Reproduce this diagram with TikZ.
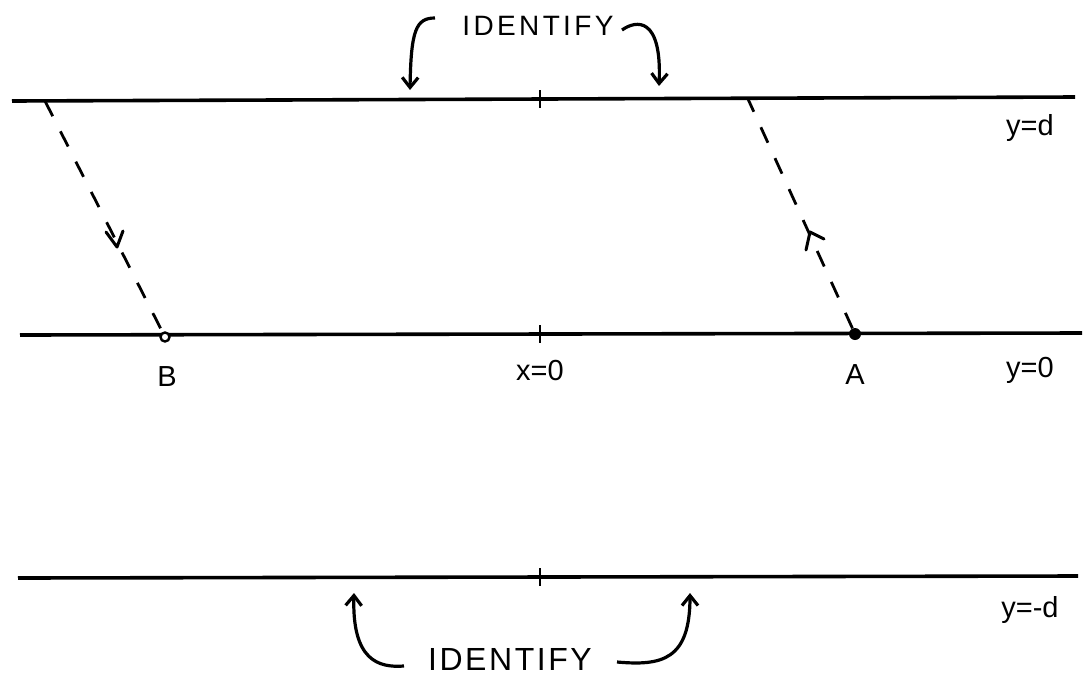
\documentclass[tikz,border=0pt]{standalone}
\usepackage{fontspec}
\setmainfont{Liberation Sans}
\usetikzlibrary{arrows.meta}
\begin{document}
\begin{tikzpicture}[x=1pt,y=-1pt,
  axisline/.style={line width=3.6pt},
  tickmark/.style={line width=2.8pt},
  dashline/.style={line width=2.8pt, dash pattern=on 17pt off 17pt},
  curvearrow/.style={line width=3.2pt, -{Straight Barb[length=10pt,width=16pt,line width=3.2pt]}},
  lbl/.style={font=\fontsize{29}{32}\selectfont},
  idtop/.style={font=\fontsize{28}{32}\selectfont\addfontfeature{LetterSpace=12}},
  idbot/.style={font=\fontsize{32}{36}\selectfont\addfontfeature{LetterSpace=8}}]
\useasboundingbox (0,0) rectangle (1084,681);
% lines
\coordinate (t1) at (12,101); \coordinate (t2) at (1075,97);
\coordinate (m1) at (20,335); \coordinate (m2) at (1082,333);
\coordinate (b1) at (18,578); \coordinate (b2) at (1078,576);
\draw[axisline] (t1) -- (t2);
\draw[axisline] (m1) -- (m2);
\draw[axisline] (b1) -- (b2);
\coordinate (tt) at (540,90); \coordinate (tb) at (540,108);
\draw[tickmark] (tt) -- (tb);
\coordinate (mt) at (540,325); \coordinate (mb) at (540,343);
\draw[tickmark] (mt) -- (mb);
\coordinate (bt) at (540,568); \coordinate (bb) at (540,586);
\draw[tickmark] (bt) -- (bb);
% points
\node[circle, draw, line width=2.4pt, fill=white, inner sep=0pt, minimum size=9pt] (B) at (165,337) {};
\node[circle, fill=black, inner sep=0pt, minimum size=12pt] (A) at (855,334) {};
\coordinate (Bt) at (45,101);
\coordinate (At) at (748,99);
\draw[dashline] (Bt) -- (B);
\draw[dashline] (A) -- (At);
% mid arrows
\draw[line width=3pt, line cap=round, line join=round] (106,232) -- (117,247) -- (123,231);
\draw[line width=3pt, line cap=round, line join=round] (806,250) -- (810,232) -- (824,239);
% labels
\node[lbl] (Blbl) at (167,377) {B};
\node[lbl] (Albl) at (855,375) {A};
\node[lbl] (xlbl) at (540,371) {x=0};
\node[lbl] (yd) at (1030,128) {y=d};
\node[lbl] (y0) at (1030,370) {y=0};
\node[lbl] (ymd) at (1030,610) {y=-d};
% identify top
\node[idtop] (idt) at (538,26) {IDENTIFY};
\coordinate (tl0) at (435,18); \coordinate (tl1) at (410,90);
\draw[curvearrow] (tl0) .. controls (416,18) and (411,30) .. (tl1);
\coordinate (tr0) at (622,30); \coordinate (tr1) at (659,86);
\draw[curvearrow] (tr0) .. controls (636,20) and (662,16) .. (tr1);
% identify bottom
\node[idbot] (idb) at (510,659) {IDENTIFY};
\coordinate (bl0) at (404,666); \coordinate (bl1) at (354,593);
\draw[curvearrow] (bl0) .. controls (378,668) and (352,660) .. (bl1);
\coordinate (br0) at (617,662); \coordinate (br1) at (690,593);
\draw[curvearrow] (br0) .. controls (662,666) and (690,660) .. (br1);
\end{tikzpicture}
\end{document}
